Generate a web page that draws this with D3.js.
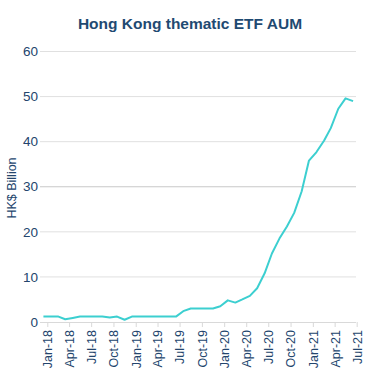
<!DOCTYPE html>
<html><head><meta charset="utf-8">
<script src="https://cdn.jsdelivr.net/npm/d3@7"></script>
<style>body{margin:0;background:#fff;} text{font-family:"Liberation Sans",Arial,sans-serif;}</style>
</head><body>
<svg id="c" width="379" height="387"></svg>
<script>
const title = "Hong Kong thematic ETF AUM";
const yLabel = "HK$ Billion";
const months = ["2017-12","2018-01","2018-02","2018-03","2018-04","2018-05","2018-06","2018-07","2018-08","2018-09","2018-10","2018-11","2018-12",
"2019-01","2019-02","2019-03","2019-04","2019-05","2019-06","2019-07","2019-08","2019-09","2019-10","2019-11","2019-12",
"2020-01","2020-02","2020-03","2020-04","2020-05","2020-06","2020-07","2020-08","2020-09","2020-10","2020-11","2020-12",
"2021-01","2021-02","2021-03","2021-04","2021-05","2021-06"];
const aum = [1.2,1.2,1.2,0.6,0.9,1.2,1.2,1.2,1.2,1.0,1.2,0.5,1.2,
1.2,1.2,1.2,1.2,1.2,1.2,2.4,3.0,3.0,3.0,3.0,3.5,
4.8,4.3,5.0,5.8,7.5,10.8,15.2,18.5,21.2,24.2,29.0,35.8,
37.7,40.2,43.0,47.3,49.6,49.0];
const yTicks = [0,10,20,30,40,50,60];
const xTickLabels = ["Jan-18","Apr-18","Jul-18","Oct-18","Jan-19","Apr-19","Jul-19","Oct-19","Jan-20","Apr-20","Jul-20","Oct-20","Jan-21","Apr-21","Jul-21"];

const svg = d3.select("#c");
const textCol = "#23456d";
const parseM = d3.timeParse("%Y-%m");
const fmt = d3.timeFormat("%b-%y");
const pts = months.map((m,i)=>({d:d3.timeDay.offset(parseM(m),15), v:aum[i]}));
const tickDates = xTickLabels.map(s=>d3.timeParse("%b-%y")(s));

const x = d3.scaleTime().domain([tickDates[0], tickDates[tickDates.length-1]]).range([47.3, 356.7]);
const y = d3.scaleLinear().domain([0,60]).range([322, 51.5]);

svg.append("text").attr("x",190).attr("y",29).attr("text-anchor","middle")
  .attr("font-size","15.5px").attr("font-weight","bold").attr("fill","#1f4a72").text(title);

// grid
svg.append("g").selectAll("line").data(yTicks.filter(t=>t>0)).join("line")
  .attr("x1",40).attr("x2",356).attr("y1",d=>y(d)).attr("y2",d=>y(d))
  .attr("stroke",d=>d===30?"#c8c8c8":"#e0e0e0").attr("stroke-width",1);

// y labels
svg.append("g").selectAll("text").data(yTicks).join("text")
  .attr("x",38).attr("y",d=>y(d)).attr("dy","0.35em").attr("text-anchor","end")
  .attr("font-size","13.5px").attr("fill",textCol).text(d=>d);

svg.append("text").attr("transform","translate(16,188) rotate(-90)").attr("text-anchor","middle")
  .attr("font-size","12.5px").attr("fill",textCol).text(yLabel);

// x axis
const xAxis = d3.axisBottom(x).tickValues(tickDates).tickFormat(fmt).tickSize(5).tickSizeOuter(0);
const gx = svg.append("g").attr("transform","translate(0,322)").call(xAxis);
gx.select(".domain").attr("stroke","#d9d9d9").attr("d","M40,0.5H356");
gx.selectAll(".tick line").attr("stroke","#d9d9d9");
gx.selectAll(".tick text").attr("font-family","Liberation Sans, Arial, sans-serif")
  .attr("font-size","12.5px").attr("fill",textCol)
  .attr("text-anchor","end").attr("transform","rotate(-90)")
  .attr("x",-8).attr("y",0).attr("dy","0.35em");

// line
const line = d3.line().x(d=>x(d.d)).y(d=>y(d.v));
svg.append("path").datum(pts).attr("d",line).attr("fill","none")
  .attr("stroke","#3ccfd0").attr("stroke-width",2).attr("stroke-linejoin","round");
</script>
</body></html>
